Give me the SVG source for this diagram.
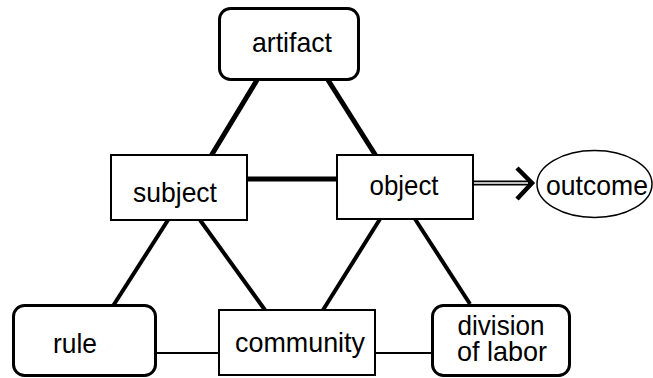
<svg xmlns="http://www.w3.org/2000/svg" width="653" height="378" viewBox="0 0 653 378">
<style>
  text { font-family: "Liberation Sans", Arial, sans-serif; font-size: 28.5px; fill: #000; text-anchor: middle; }
  .rbox { fill: #fff; stroke: #000; stroke-width: 3; }
  .box { fill: #fff; stroke: #000; stroke-width: 2; }
  .thick { stroke: #000; stroke-width: 5; fill: none; }
  .mid { stroke: #000; stroke-width: 4; fill: none; }
  .thin { stroke: #000; stroke-width: 2; fill: none; }
</style>
<rect width="653" height="378" fill="#fff"/>
<g id="connectors">
  <line class="thick" x1="257" y1="80" x2="211" y2="156"/>
  <line class="thick" x1="328" y1="80" x2="376" y2="156"/>
  <line class="thick" x1="247" y1="179" x2="337" y2="179"/>
  <line class="mid" x1="168" y1="220" x2="113" y2="306"/>
  <line class="mid" x1="200" y1="220" x2="265" y2="310"/>
  <line class="mid" x1="380" y1="219" x2="323" y2="310"/>
  <line class="mid" x1="415" y1="219" x2="470" y2="304"/>
  <line class="thin" x1="156" y1="353" x2="219" y2="353"/>
  <line class="thin" x1="375" y1="353" x2="432" y2="353"/>
  <line stroke="#000" stroke-width="5" x1="473" y1="183" x2="530" y2="183"/>
  <line stroke="#fff" stroke-width="1.5" x1="474" y1="183" x2="528" y2="183"/>
  <polyline stroke="#000" stroke-width="4.5" fill="none" points="517,168 532,183 517,199" stroke-linejoin="miter"/>
</g>
<g id="artifact">
  <rect class="rbox" x="219.5" y="8.5" width="139" height="71" rx="11"/>
  <text x="292" y="52" textLength="80" lengthAdjust="spacingAndGlyphs">artifact</text>
</g>
<g id="subject">
  <rect class="box" x="111" y="155" width="136" height="65"/>
  <text x="175" y="202" textLength="84" lengthAdjust="spacingAndGlyphs">subject</text>
</g>
<g id="object">
  <rect class="box" x="337" y="155" width="136" height="64"/>
  <text x="404" y="195" textLength="69" lengthAdjust="spacingAndGlyphs">object</text>
</g>
<g id="outcome">
  <ellipse cx="594.5" cy="184" rx="57.5" ry="33.5" fill="#fff" stroke="#000" stroke-width="1.5"/>
  <text x="597" y="195" textLength="102" lengthAdjust="spacingAndGlyphs">outcome</text>
</g>
<g id="rule">
  <rect class="rbox" x="13.5" y="305.5" width="142" height="70" rx="11"/>
  <text x="75" y="353" textLength="44" lengthAdjust="spacingAndGlyphs">rule</text>
</g>
<g id="community">
  <rect class="box" x="219" y="310" width="156" height="65"/>
  <text x="300" y="352" textLength="130" lengthAdjust="spacingAndGlyphs">community</text>
</g>
<g id="division">
  <rect class="rbox" x="432.5" y="305.5" width="137" height="70" rx="11"/>
  <text x="501" y="335" textLength="87" lengthAdjust="spacingAndGlyphs">division</text>
  <text x="502" y="361" textLength="90" lengthAdjust="spacingAndGlyphs">of labor</text>
</g>
</svg>
